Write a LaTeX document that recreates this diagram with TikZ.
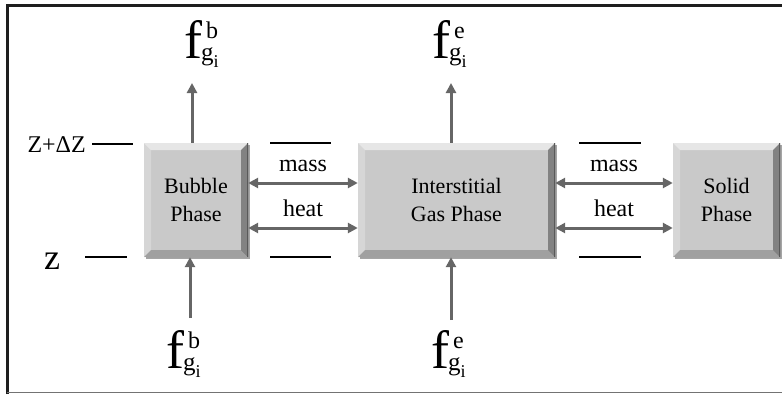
\documentclass[tikz,border=0pt]{standalone}
\usepackage{fontspec}
\setmainfont{Liberation Serif}
\usetikzlibrary{arrows.meta,positioning,shadows}
\definecolor{phasegray}{HTML}{C9C9C9}
\definecolor{arrowgray}{HTML}{666666}
\definecolor{framegray}{HTML}{1E1E1E}

% molar flow label f with superscript and g_i subscript
\newcommand{\flowlabel}[1]{%
 {\fontsize{54}{54}\selectfont f}\kern-1pt%
 \rlap{\raisebox{-2pt}{\fontsize{25}{25}\selectfont g\raisebox{-7pt}{\fontsize{18}{18}\selectfont i}}}%
 \kern5pt\raisebox{20pt}{\fontsize{24}{24}\selectfont #1}}

\begin{document}
\begin{tikzpicture}[
 x=1pt,y=-1pt,
 every node/.style={font=\fontsize{22}{28}\selectfont},
 phase/.style={fill=phasegray,minimum height=114pt,align=center,inner sep=0pt,
  drop shadow={shadow xshift=2pt,shadow yshift=-2pt,opacity=0.5,fill=black!70},
  path picture={
   \coordinate (nw) at (path picture bounding box.north west);
   \coordinate (ne) at (path picture bounding box.north east);
   \coordinate (sw) at (path picture bounding box.south west);
   \coordinate (se) at (path picture bounding box.south east);
   \fill[white,opacity=0.55] (nw) -- (ne) -- ([shift={(-7pt,-7pt)}]ne)
    -- ([shift={(7pt,-7pt)}]nw) -- cycle;
   \fill[white,opacity=0.25] (nw) -- ([shift={(7pt,-7pt)}]nw)
    -- ([shift={(7pt,7pt)}]sw) -- (sw) -- cycle;
   \fill[black,opacity=0.35] (ne) -- (se) -- ([shift={(-7pt,7pt)}]se)
    -- ([shift={(-7pt,-7pt)}]ne) -- cycle;
   \fill[black,opacity=0.2] (sw) -- (se) -- ([shift={(-7pt,7pt)}]se)
    -- ([shift={(7pt,7pt)}]sw) -- cycle;
   \draw[black!65,line width=1.5pt] (ne) -- (se);
  }},
 flow/.style={arrowgray,line width=3pt,-{Triangle[length=10pt,width=10pt]}},
 exchange/.style={flow,{Triangle[length=10pt,width=10pt]}-{Triangle[length=10pt,width=10pt]}},
 tag/.style={inner sep=0pt,text depth=0pt,above=10pt,black,font=\fontsize{24}{28}\selectfont},
 level/.style={line width=1.6pt}
]
 \useasboundingbox (0,0) rectangle (782,394);

 % frame
 \draw[framegray,line width=3pt] (7,394) -- (7,5) -- (782,5);
 \draw[black!55,line width=1.5pt] (7,392.5) -- (782,392.5);

 % phases
 \node[phase,minimum width=104pt] (bubble) at (196,200) {Bubble\\Phase};
 \node[phase,minimum width=197pt] (gas) at (456.5,200) {Interstitial\\Gas Phase};
 \node[phase,minimum width=107pt] (solid) at (726.5,200) {Solid\\Phase};

 % flows in and out
 \node[anchor=base west,inner sep=0pt] (fbout) at (184,58) {\flowlabel{b}};
 \node[anchor=base west,inner sep=0pt] (feout) at (432,58) {\flowlabel{e}};
 \node[anchor=base west,inner sep=0pt] (fbin) at (166,368) {\flowlabel{b}};
 \node[anchor=base west,inner sep=0pt] (fein) at (431,368) {\flowlabel{e}};
 \coordinate (bubble tip) at (192,83);
 \coordinate (gas tip) at (451,83);
 \coordinate (bubble tail) at (190,318);
 \coordinate (gas tail) at (451,320);
 \draw[flow] (bubble.north -| bubble tip) -- (bubble tip);
 \draw[flow] (gas.north -| gas tip) -- (gas tip);
 \draw[flow] (bubble tail) -- (bubble.south -| bubble tail);
 \draw[flow] (gas tail) -- (gas.south -| gas tail);

 % exchange between phases
 \draw[exchange] ([yshift=17pt]bubble.east) -- ([yshift=17pt]gas.west)
  node[midway,tag] (mass1) {mass};
 \draw[exchange] ([yshift=-28pt]bubble.east) -- ([yshift=-28pt]gas.west)
  node[midway,tag] (heat1) {heat};
 \draw[exchange] ([yshift=17pt]gas.east) -- ([yshift=17pt]solid.west)
  node[midway,tag] (mass2) {mass};
 \draw[exchange] ([yshift=-28pt]gas.east) -- ([yshift=-28pt]solid.west)
  node[midway,tag] (heat2) {heat};

 % slice levels
 \foreach \xa/\xb in {270/331,579/641}
  \foreach \y in {143,257}
   \draw[level] (\xa,\y) -- (\xb,\y);
 \node[anchor=base east,inner sep=0pt,font=\fontsize{24}{24}\selectfont] (ztop) at (86,152) {Z+ΔZ};
 \node[anchor=base,inner sep=0pt,font=\fontsize{36}{36}\selectfont] (zbot) at (52,269) {z};
 \draw[level] (92,144) -- (133,144);
 \draw[level] (85,257) -- (127,257);
\end{tikzpicture}
\end{document}
